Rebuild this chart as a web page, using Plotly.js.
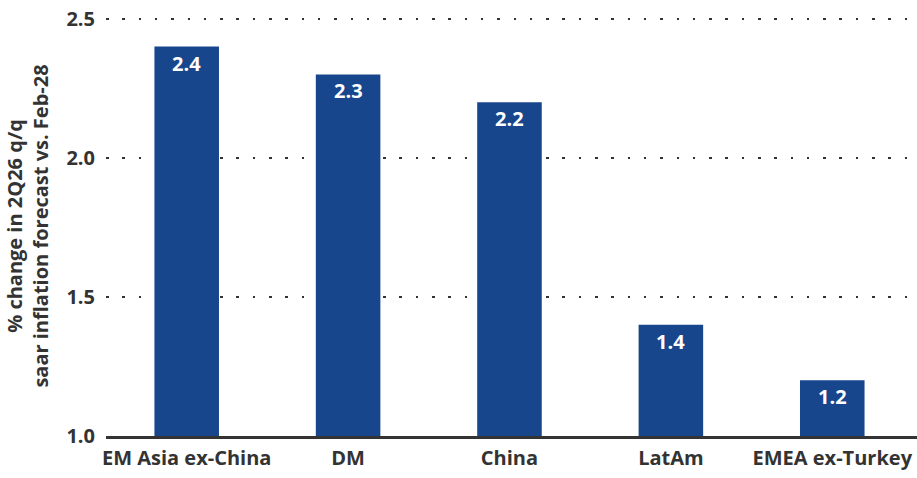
<!DOCTYPE html>
<html>
<head>
<meta charset="utf-8">
<script src="https://cdn.plot.ly/plotly-3.0.1.min.js"></script>
<style>html,body{margin:0;padding:0;background:#fff;}#chart{width:917px;height:478px;}</style>
</head>
<body>
<div id="chart"></div>
<script>
const categories = ["EM Asia ex-China", "DM", "China", "LatAm", "EMEA ex-Turkey"];
const values = [2.4, 2.3, 2.2, 1.4, 1.2];
const yTicks = [1.0, 1.5, 2.0, 2.5];
const yTickLabels = ["1.0", "1.5", "2.0", "2.5"];
const baseValue = 1.0;

const barColor = "#18468c";
const textColor = "#333333";
const fam = "Open Sans, sans-serif";

const trace = {
  type: "bar",
  x: categories,
  y: values.map(v => v - baseValue),
  base: baseValue,
  marker: {color: barColor},
  hoverinfo: "skip"
};

const annotations = categories.map((c, i) => ({
  x: c, y: values[i], xref: "x", yref: "y",
  text: values[i].toFixed(1), showarrow: false,
  yanchor: "top", yshift: -1,
  font: {family: fam, size: 20, color: "#ffffff", weight: 700}
}));

const layout = {
  width: 917, height: 478,
  margin: {l: 106, r: 0, t: 16, b: 42},
  paper_bgcolor: "#ffffff", plot_bgcolor: "#ffffff",
  showlegend: false,
  bargap: 0.6,
  font: {family: fam, size: 20, color: textColor, weight: 700},
  xaxis: {
    type: "category",
    range: [-0.5, 4.525],
    showline: true, linecolor: "#333333", linewidth: 3,
    showgrid: false, ticks: "",
    ticklabelstandoff: 2,
    tickfont: {family: fam, size: 20, color: textColor, weight: 700},
    fixedrange: true
  },
  yaxis: {
    range: [1.0, 2.51],
    tickvals: yTicks, ticktext: yTickLabels,
    showgrid: true, gridcolor: "#333333", gridwidth: 2.5, griddash: "2.5px,13.8px",
    zeroline: false, showline: false, ticks: "",
    ticklabelstandoff: 10,
    tickfont: {family: fam, size: 20, color: textColor, weight: 700},
    title: {
      text: "% change in 2Q26 q/q<br>saar inflation forecast vs. Feb-28",
      font: {family: fam, size: 20, color: textColor, weight: 700},
      standoff: 12
    },
    fixedrange: true
  },
  annotations: annotations
};

Plotly.newPlot("chart", [trace], layout, {displayModeBar: false, staticPlot: true});
</script>
</body>
</html>
